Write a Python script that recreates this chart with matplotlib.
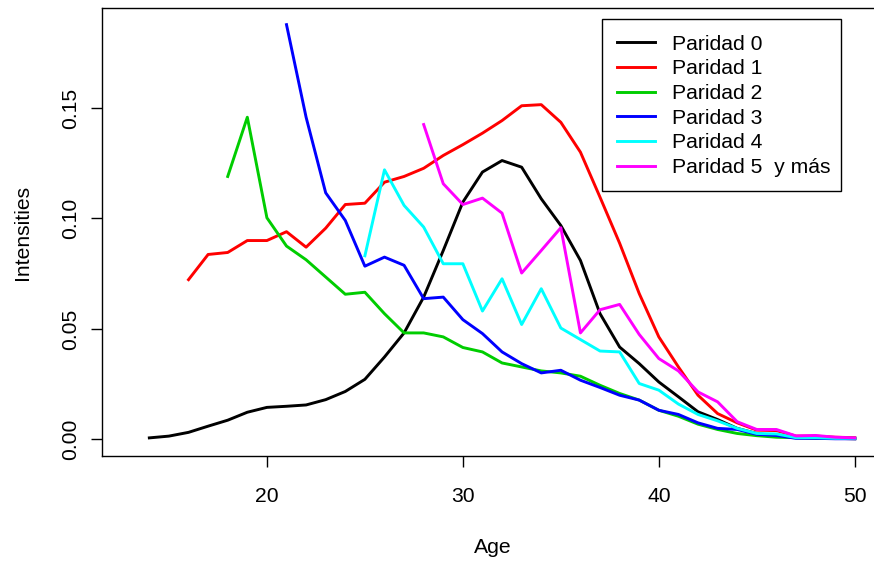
import matplotlib

matplotlib.use("Agg")
import matplotlib.pyplot as plt
from matplotlib.patches import Rectangle

plt.rcParams["font.family"] = ["Liberation Sans", "DejaVu Sans"]

# intensities by age, one list per parity (each starts at its own first age)
p0_start = 14
p0 = [0.0007, 0.0015, 0.0032, 0.006, 0.0087, 0.0123, 0.0145, 0.015, 0.0156, 0.018,
      0.0217, 0.0272, 0.0373, 0.0482, 0.0644, 0.0855, 0.1074, 0.121, 0.1262, 0.1232,
      0.1089, 0.0968, 0.081, 0.0569, 0.0418, 0.0343, 0.026, 0.0193, 0.0125, 0.009,
      0.005, 0.0027, 0.0015, 0.001, 0.0008, 0.0005, 0.0003]

p1_start = 16
p1 = [0.0723, 0.0837, 0.0846, 0.090, 0.090, 0.094, 0.087, 0.0956, 0.1063, 0.1069,
      0.1164, 0.119, 0.1227, 0.1285, 0.1334, 0.1386, 0.1443, 0.151, 0.1515, 0.1435,
      0.130, 0.1096, 0.0888, 0.066, 0.0464, 0.0328, 0.020, 0.0117, 0.0075, 0.0042,
      0.004, 0.0015, 0.0015, 0.001, 0.0008]

p2_start = 18
p2 = [0.119, 0.1458, 0.1003, 0.0875, 0.0813, 0.0735, 0.0657, 0.0666, 0.0569, 0.0482,
      0.0482, 0.0464, 0.0416, 0.0396, 0.0346, 0.0328, 0.031, 0.0301, 0.0286, 0.0245,
      0.0208, 0.0178, 0.0132, 0.0105, 0.0069, 0.0045, 0.0027, 0.0017, 0.001, 0.0008,
      0.0005, 0.0005, 0.0005]

p3_start = 21
p3 = [0.1877, 0.1458, 0.1116, 0.0991, 0.0784, 0.0825, 0.0788, 0.0637, 0.0644, 0.0542,
      0.0479, 0.0396, 0.0343, 0.0301, 0.0313, 0.0268, 0.0235, 0.020, 0.0178, 0.0132,
      0.0113, 0.0075, 0.005, 0.0045, 0.0023, 0.0018, 0.0005, 0.0005, 0.0003, 0.0003]

p4_start = 25
p4 = [0.0831, 0.122, 0.1059, 0.0961, 0.0795, 0.0795, 0.0581, 0.0727, 0.052, 0.0682,
      0.0504, 0.0452, 0.040, 0.0396, 0.0253, 0.0223, 0.016, 0.0113, 0.0084, 0.005,
      0.0027, 0.0025, 0.0008, 0.0008, 0.0005, 0.0005]

p5_start = 28
p5 = [0.1425, 0.1157, 0.1063, 0.1092, 0.1024, 0.0753, 0.0855, 0.0958, 0.0482, 0.0587,
      0.0611, 0.0475, 0.0366, 0.031, 0.0215, 0.017, 0.008, 0.0045, 0.0045, 0.0016,
      0.0018, 0.001, 0.0007]

labels = ["Paridad 0", "Paridad 1", "Paridad 2", "Paridad 3", "Paridad 4", "Paridad 5  y más"]
colors = ["black", "#ff0000", "#00cd00", "#0000ff", "#00ffff", "#ff00ff"]
series = [(p0_start, p0), (p1_start, p1), (p2_start, p2),
          (p3_start, p3), (p4_start, p4), (p5_start, p5)]

FS = 15.2
W, H = 874, 563
fig = plt.figure(figsize=(W / 100, H / 100), dpi=100)
left, right, top, bottom = 102.3, 883, 8.3, 456
ax = fig.add_axes([left / W, 1 - bottom / H, (right - left) / W, (bottom - top) / H])

for (start, vals), lab, col in zip(series, labels, colors):
    ages = list(range(start, start + len(vals)))
    ax.plot(ages, vals, color=col, lw=2.1, label=lab, solid_joinstyle="round")

ax.set_xlim(11.6, 51.44)
ax.set_ylim(-0.0075, 0.1951)
ax.set_xticks([20, 30, 40, 50])
ax.set_yticks([0, 0.05, 0.10, 0.15])
ax.set_yticklabels(["0.00", "0.05", "0.10", "0.15"], rotation=90, va="center")
ax.tick_params(axis="both", direction="out", length=8, width=1, labelsize=FS)
ax.tick_params(axis="x", pad=14.5)
ax.tick_params(axis="y", pad=8)
for s in ax.spines.values():
    s.set_linewidth(1)
ax.set_xlabel("Age", fontsize=FS, labelpad=23)
ax.set_ylabel("Intensities", fontsize=FS, labelpad=21)

# legend entries without frame; R-style box drawn separately
leg_x0, leg_y0, leg_x1, leg_y1 = 601.7, 19.3, 841, 191
leg = ax.legend(loc="upper left", bbox_to_anchor=(leg_x0 / W, 1 - leg_y0 / H),
                bbox_transform=fig.transFigure, fontsize=FS, frameon=False,
                handlelength=1.8, handletextpad=0.8, labelspacing=0.27,
                borderpad=0.72, borderaxespad=0)
leg.set_zorder(6)
ax.add_patch(Rectangle((leg_x0 / W, 1 - leg_y1 / H), (leg_x1 - leg_x0) / W,
                       (leg_y1 - leg_y0) / H, transform=fig.transFigure,
                       facecolor="white", edgecolor="black", lw=1,
                       zorder=5, clip_on=False))

fig.savefig("out.png", dpi=100)
plt.close(fig)
